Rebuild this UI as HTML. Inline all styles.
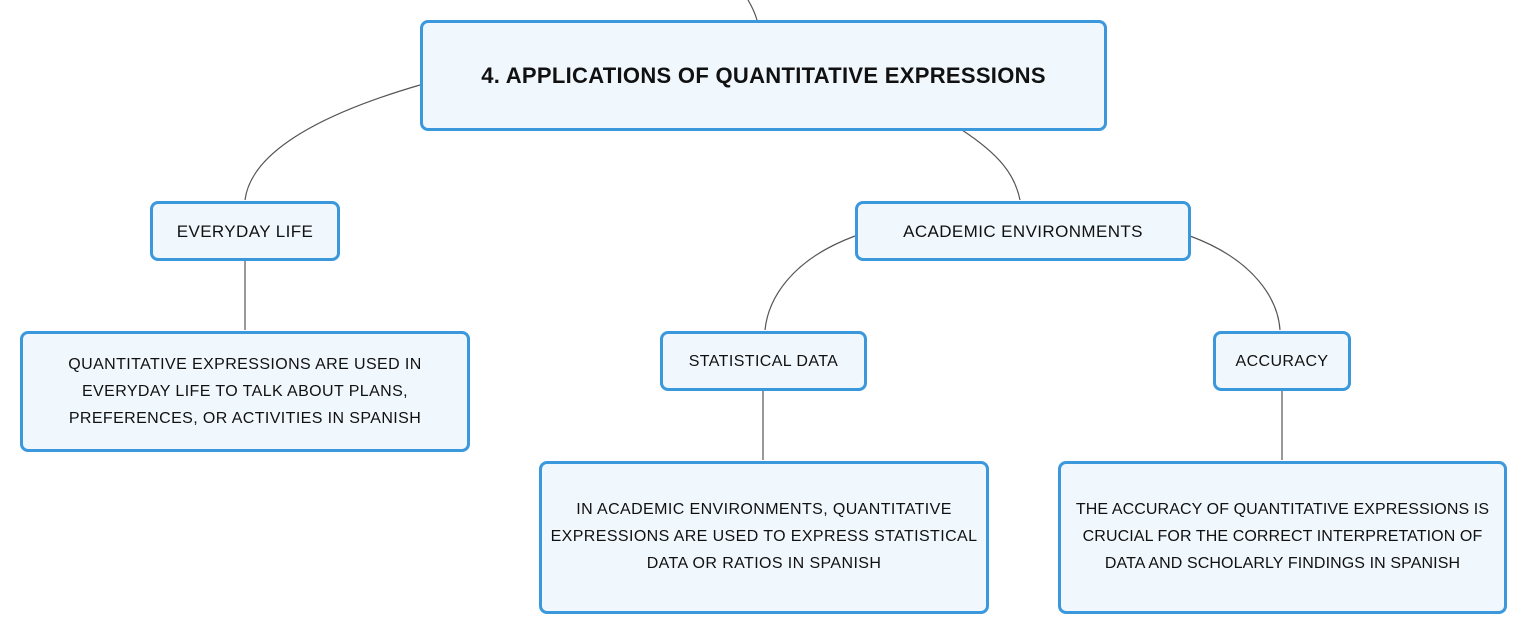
<!DOCTYPE html>
<html><head><style>
body{margin:0;width:1527px;height:634px;background:#fff;position:relative;overflow:hidden;font-family:"Liberation Sans",sans-serif;}
.n{position:absolute;box-sizing:border-box;background:#f0f7fd;border:3px solid #3b98dd;border-radius:8px;display:flex;align-items:center;justify-content:center;text-align:center;color:#111;font-size:16px;line-height:27px;letter-spacing:0.4px;}
svg{position:absolute;left:0;top:0}
</style></head><body>
<svg width="1527" height="634" fill="none" stroke="#555" stroke-width="1.2">
<path d="M748 0 Q754 10 757 20"/>
<path d="M420 85 C300 120 250 160 245 200"/>
<path d="M962 130 C1000 155 1015 175 1020 200"/>
<path d="M245 260 V330"/>
<path d="M855 236 C790 260 768 300 765 330"/>
<path d="M1190 236 C1255 260 1278 300 1280 330"/>
<path d="M763 390 V460"/>
<path d="M1282 390 V460"/>
</svg>
<div class="n" style="left:420px;top:20px;width:687px;height:111px;font-weight:bold;font-size:22px;letter-spacing:0.3px;">4. APPLICATIONS OF QUANTITATIVE EXPRESSIONS</div>
<div class="n" style="left:150px;top:201px;width:190px;height:60px;font-size:17px;">EVERYDAY LIFE</div>
<div class="n" style="left:855px;top:201px;width:336px;height:60px;font-size:17px;">ACADEMIC ENVIRONMENTS</div>
<div class="n" style="left:20px;top:331px;width:450px;height:121px;">QUANTITATIVE EXPRESSIONS ARE USED IN<br>EVERYDAY LIFE TO TALK ABOUT PLANS,<br>PREFERENCES, OR ACTIVITIES IN SPANISH</div>
<div class="n" style="left:660px;top:331px;width:207px;height:60px;">STATISTICAL DATA</div>
<div class="n" style="left:1213px;top:331px;width:138px;height:60px;">ACCURACY</div>
<div class="n" style="left:539px;top:461px;width:450px;height:153px;padding-bottom:2px;">IN ACADEMIC ENVIRONMENTS, QUANTITATIVE<br>EXPRESSIONS ARE USED TO EXPRESS STATISTICAL<br>DATA OR RATIOS IN SPANISH</div>
<div class="n" style="left:1058px;top:461px;width:449px;height:153px;padding-bottom:2px;letter-spacing:0.1px;">THE ACCURACY OF QUANTITATIVE EXPRESSIONS IS<br>CRUCIAL FOR THE CORRECT INTERPRETATION OF<br>DATA AND SCHOLARLY FINDINGS IN SPANISH</div>
</body></html>
